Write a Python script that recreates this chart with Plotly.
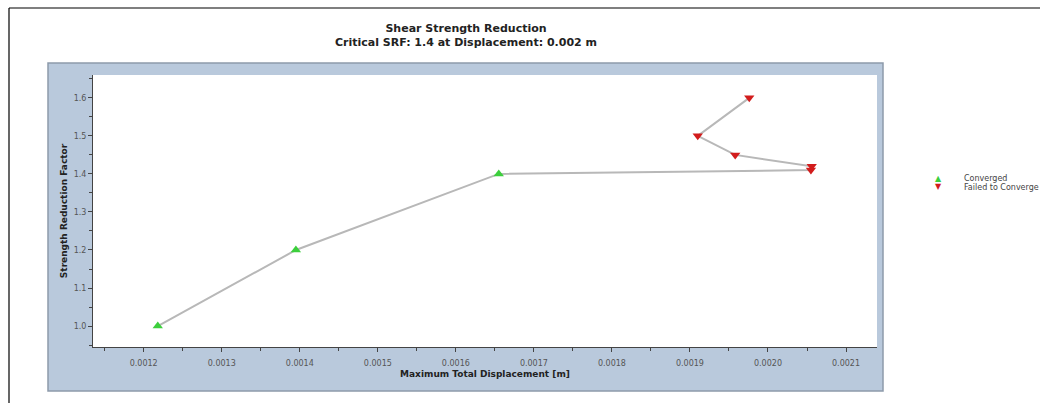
import plotly.graph_objects as go

# Shear strength reduction results
converged_disp = [0.001218, 0.001395, 0.001655]
converged_srf = [1.0, 1.2, 1.4]
failed_disp = [0.002055, 0.002056, 0.001958, 0.001910, 0.001976]
failed_srf = [1.41, 1.42, 1.45, 1.5, 1.6]

x_ticks = [0.0012, 0.0013, 0.0014, 0.0015, 0.0016, 0.0017, 0.0018, 0.0019, 0.0020, 0.0021]
x_ticklabels = ["0.0012", "0.0013", "0.0014", "0.0015", "0.0016",
                "0.0017", "0.0018", "0.0019", "0.0020", "0.0021"]
y_ticks = [1.0, 1.1, 1.2, 1.3, 1.4, 1.5, 1.6]
y_ticklabels = ["1.0", "1.1", "1.2", "1.3", "1.4", "1.5", "1.6"]

W, H = 1040, 403
L, R, T, B = 93, 877, 75, 347  # plot area in pixels


def px(x):
    return (x - L) / (R - L)


def py(y):
    return (B - y) / (B - T)


# path through all stages ordered by SRF
pts = sorted(zip(converged_srf + failed_srf, converged_disp + failed_disp))
path_srf = [p[0] for p in pts]
path_disp = [p[1] for p in pts]

fig = go.Figure()
fig.add_trace(go.Scatter(x=path_disp, y=path_srf, mode="lines",
                         line=dict(color="#b8b8b8", width=2),
                         hoverinfo="skip", showlegend=False))
fig.add_trace(go.Scatter(x=converged_disp, y=converged_srf, mode="markers",
                         name="Converged",
                         marker=dict(symbol="triangle-up", size=9, color="#3ccf3c"),
                         showlegend=False))
fig.add_trace(go.Scatter(x=failed_disp, y=failed_srf, mode="markers",
                         name="Failed to Converge",
                         marker=dict(symbol="triangle-down", size=9, color="#d21c1c"),
                         showlegend=False))

shapes = [
    # blue chart panel
    dict(type="rect", xref="paper", yref="paper", layer="below",
         x0=px(48), x1=px(883), y0=py(391), y1=py(63),
         fillcolor="#b9c9dc", line=dict(color="#8d9aab", width=1.5)),
    # white plotting area
    dict(type="rect", xref="paper", yref="paper", layer="below",
         x0=0, x1=1, y0=0, y1=1, fillcolor="white", line=dict(width=0)),
    # outer frame
    dict(type="line", xref="paper", yref="paper",
         x0=px(9), x1=px(9), y0=py(8), y1=py(403),
         line=dict(color="black", width=1.2)),
    dict(type="line", xref="paper", yref="paper",
         x0=px(9), x1=px(1040), y0=py(8), y1=py(8),
         line=dict(color="black", width=1.2)),
]

legend_font = dict(family="DejaVu Sans", size=8, color="#444444")
annotations = [
    dict(text="▲", x=px(938), y=py(178), xref="paper", yref="paper",
         showarrow=False, xanchor="center", yanchor="middle",
         font=dict(family="DejaVu Sans", size=8, color="#3ccf3c")),
    dict(text="▼", x=px(938), y=py(186), xref="paper", yref="paper",
         showarrow=False, xanchor="center", yanchor="middle",
         font=dict(family="DejaVu Sans", size=8, color="#d21c1c")),
    dict(text="Converged", x=px(962), y=py(178), xref="paper", yref="paper",
         showarrow=False, xanchor="left", yanchor="middle", font=legend_font),
    dict(text="Failed to Converge", x=px(962), y=py(187), xref="paper", yref="paper",
         showarrow=False, xanchor="left", yanchor="middle", font=legend_font),
]

tick_font = dict(family="DejaVu Sans", size=8, color="#555555")
title_font = dict(family="DejaVu Sans", size=9, color="#222222")

fig.update_layout(
    width=W, height=H,
    margin=dict(l=L, r=W - R, t=T, b=H - B, autoexpand=False),
    paper_bgcolor="white", plot_bgcolor="white",
    title=dict(text="<b>Shear Strength Reduction<br>Critical SRF: 1.4 at Displacement: 0.002 m</b>",
               x=466 / W, xanchor="center", xref="container",
               y=1 - 32 / H, yanchor="middle", yref="container",
               font=dict(family="DejaVu Sans", size=11, color="#222222")),
    shapes=shapes,
    annotations=annotations,
    showlegend=False,
)

fig.update_xaxes(
    range=[0.001135, 0.0021397],
    tickvals=x_ticks, ticktext=x_ticklabels, tickfont=tick_font,
    ticks="outside", ticklen=4, tickcolor="#444444", ticklabelstandoff=4,
    minor=dict(ticks="outside", ticklen=3, dtick=0.00005, tick0=0.00115, tickcolor="#444444"),
    showline=True, linecolor="#444444", linewidth=1,
    showgrid=False, zeroline=False,
    title=dict(text="<b>Maximum Total Displacement [m]</b>", font=title_font, standoff=4),
)
fig.update_yaxes(
    range=[0.945, 1.66],
    tickvals=y_ticks, ticktext=y_ticklabels, tickfont=tick_font,
    ticks="outside", ticklen=4, tickcolor="#444444",
    minor=dict(ticks="outside", ticklen=3, dtick=0.05, tick0=0.95, tickcolor="#444444"),
    showline=True, linecolor="#444444", linewidth=1,
    showgrid=False, zeroline=False,
    title=dict(text="<b>Strength Reduction Factor</b>", font=title_font, standoff=4),
)

fig.write_html("out.html")
